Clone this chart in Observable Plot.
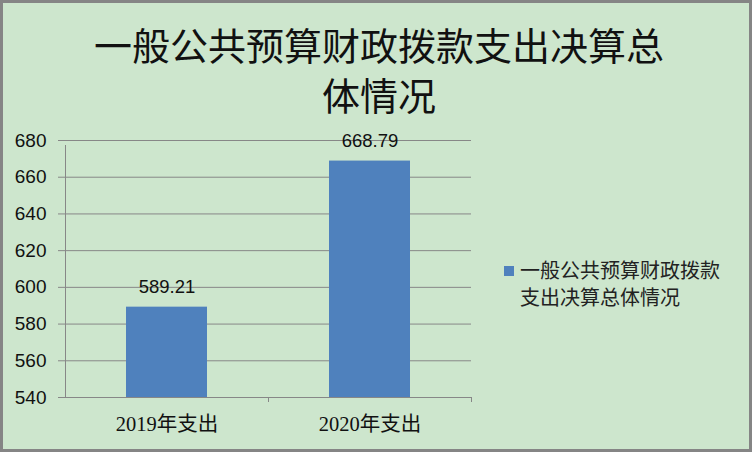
<!DOCTYPE html>
<html>
<head>
<meta charset="utf-8">
<script src="https://cdn.jsdelivr.net/npm/d3@7"></script>
<script src="https://cdn.jsdelivr.net/npm/@observablehq/plot@0.6"></script>
<style>
  html, body { margin: 0; padding: 0; background: #cde6cd; }
  #wrap { position: relative; width: 752px; height: 452px; background: #cde6cd; overflow: hidden; }
  #title { position: absolute; left: 0; top: 19px; width: 758px; text-align: center;
           font-family: "Noto Sans CJK SC", sans-serif; font-size: 38px; line-height: 50px; color: #111; }
  #legend { position: absolute; left: 504px; top: 256px; font-family: "Noto Sans CJK SC", sans-serif;
            font-size: 20px; line-height: 27px; color: #222; }
  #legend .sw { display: inline-block; width: 10px; height: 10px; background: #4f81bd; margin-right: 6px; vertical-align: 2px; }
  #legend .l2 { padding-left: 16px; }
  #border { position: absolute; left: 0; top: 0; width: 752px; height: 452px; box-sizing: border-box;
            border: 3px solid #858585; pointer-events: none; }
  #chart { position: absolute; left: 0; top: 0; }
</style>
</head>
<body>
<div id="wrap">
  <div id="chart"></div>
  <div id="title">一般公共预算财政拨款支出决算总<br>体情况</div>
  <div id="legend"><span class="sw"></span>一般公共预算财政拨款<br><span class="l2">支出决算总体情况</span></div>
  <div id="border"></div>
</div>
<script>
const categories = ["2019年支出", "2020年支出"];
const values = [589.21, 668.79];
const yTicks = [540, 560, 580, 600, 620, 640, 660, 680];
const seriesName = "一般公共预算财政拨款支出决算总体情况";

const data = categories.map((c, i) => ({category: c, value: values[i]}));
const grid = "#878787";

const chart = Plot.plot({
  width: 752,
  height: 452,
  marginLeft: 65,
  marginRight: 281,
  marginTop: 140,
  marginBottom: 55,
  style: {background: "transparent", overflow: "visible"},
  x: {domain: categories, paddingInner: 0.6, paddingOuter: 0.3, label: null},
  y: {domain: [540, 680], label: null},
  marks: [
    Plot.gridY(yTicks, {stroke: grid, strokeOpacity: 1, strokeWidth: 1}),
    Plot.axisY(yTicks, {tickSize: 7, tickPadding: 12, stroke: grid, strokeOpacity: 1,
      fontSize: 19, fontFamily: "Liberation Sans, Arial, sans-serif", fill: "#111", tickFormat: d => String(d), label: null}),
    Plot.barY(data, {x: "category", y1: 540, y2: "value", fill: "#4f81bd"}),
    Plot.ruleY([540], {stroke: grid, strokeOpacity: 1}),
    Plot.ruleX([categories[0]], {x: d => d, dx: -101.5, y1: 540, y2: 680, insetBottom: -5, stroke: grid, strokeOpacity: 1}),
    Plot.ruleX(categories, {x: d => d, dx: 101.5, y1: 540, y2: 540, insetBottom: -5, stroke: grid, strokeOpacity: 1}),
    Plot.axisX({tickSize: 0, tickPadding: 19, fontSize: 20.5,
      fontFamily: "Liberation Serif, 'Noto Sans CJK SC', serif", fill: "#111", label: null}),
    Plot.text(data, {x: "category", y: "value", text: d => d.value.toFixed(2), lineAnchor: "bottom", dy: -14,
      fontSize: 18.5, fontFamily: "Liberation Sans, Arial, sans-serif", fill: "#111"})
  ]
});
document.getElementById("chart").appendChild(chart);
</script>
</body>
</html>
